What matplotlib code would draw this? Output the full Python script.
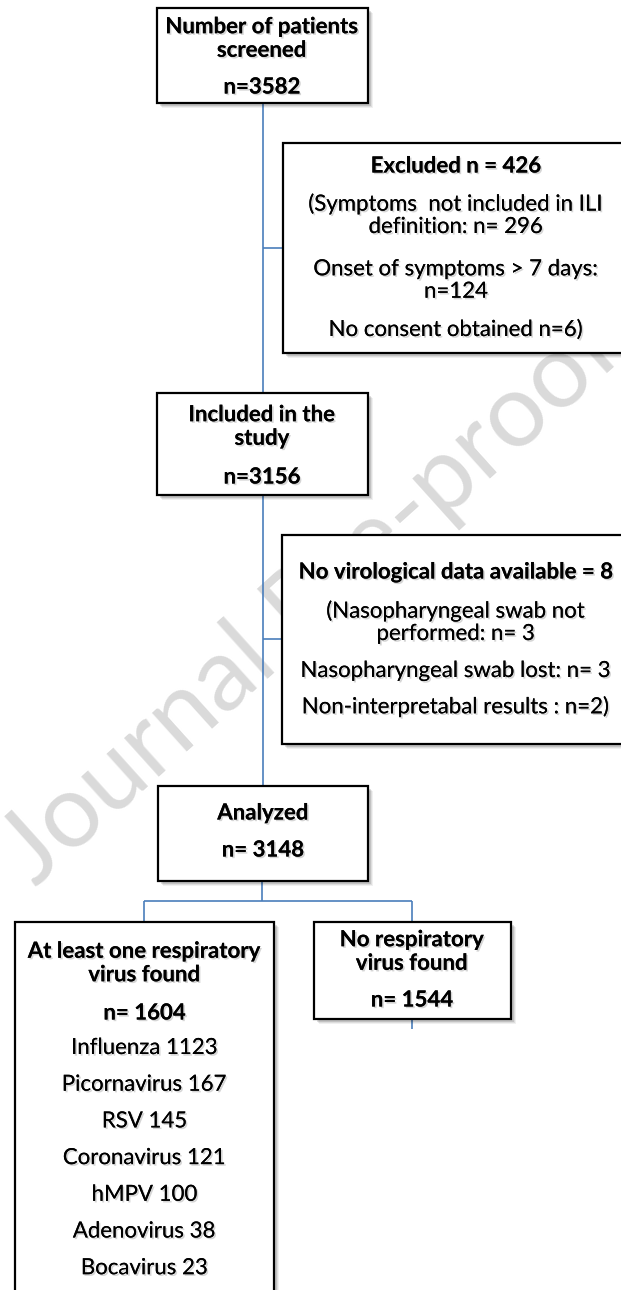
import matplotlib.pyplot as plt
from matplotlib.patches import Rectangle
import matplotlib.patheffects as pe

# numbers from the flow chart
screened = 3582
excluded = 426
excl_reasons = ["(Symptoms  not included in ILI\ndefinition: n= {}", "Onset of symptoms > 7 days:\nn={}", "No consent obtained n={})"]
excl_counts = [296, 124, 6]
included = 3156
no_viro = 8
noviro_reasons = ["(Nasopharyngeal swab not\nperformed: n= {}", "Nasopharyngeal swab lost: n= {}", "Non-interpretabal results : n={})"]
noviro_counts = [3, 3, 2]
analyzed = 3148
positive = 1604
negative = 1544
viruses = ["Influenza", "Picornavirus", "RSV", "Coronavirus", "hMPV", "Adenovirus", "Bocavirus"]
virus_counts = [1123, 167, 145, 121, 100, 38, 23]

FONT = "Lato"
LINE = "#4a7ebb"

fig = plt.figure(figsize=(6.21, 12.9), dpi=100)
ax = fig.add_axes([0, 0, 1, 1])
ax.set_xlim(0, 621)
ax.set_ylim(1290, 0)
ax.axis("off")

# watermark behind everything
ax.text(312, 600, "Journal Pre-proof", fontsize=74, color="#dadada", family=FONT,
        rotation=42, ha="center", va="center", zorder=0)

shadow = [pe.withSimplePatchShadow(offset=(1.2, -1.2), shadow_rgbFace="#777777", alpha=0.3), pe.Normal()]


def box(x0, y0, x1, y1):
    for k, a in [(5, 0.06), (4, 0.08), (3, 0.12)]:
        ax.add_patch(Rectangle((x0 + k, y0 + k), x1 - x0, y1 - y0, fc="#000000", ec="none", alpha=a, zorder=2))
    ax.add_patch(Rectangle((x0, y0), x1 - x0, y1 - y0, fc="white", ec="black", lw=1.6, zorder=3))


def txt(x, y, s, bold=False):
    ax.text(x, y, s, ha="center", va="center", family=FONT, fontsize=16,
            fontweight="bold" if bold else "normal", linespacing=1.15, zorder=4, path_effects=shadow)


def line(xs, ys):
    ax.plot(xs, ys, color=LINE, lw=1.2, zorder=1, solid_capstyle="butt")


# connectors
line([263, 263], [103, 393])
line([263, 283], [248, 248])
line([263, 263], [495, 786])
line([263, 282], [639, 639])
line([262, 262], [881, 901])
line([144, 412], [901, 901])
line([144, 144], [901, 922])
line([412, 412], [901, 922])
line([412, 412], [1019, 1029])

# screened
box(157, 8, 368, 103)
txt(262, 38.5, "Number of patients\nscreened", True)
txt(262, 87, "n={}".format(screened), True)

# excluded
box(283, 143, 632, 353)
txt(456, 166, "Excluded n = {}".format(excluded), True)
ys = [215.5, 280.5, 330]
for s, c, y in zip(excl_reasons, excl_counts, ys):
    txt(456, y, s.format(c))

# included
box(157, 393, 368, 495)
txt(262, 426.5, "Included in the\nstudy", True)
txt(262, 477, "n={}".format(included), True)

# no virological data
box(282, 535, 632, 744)
txt(456, 572, "No virological data available = {}".format(no_viro), True)
ys = [622.5, 671, 707]
for s, c, y in zip(noviro_reasons, noviro_counts, ys):
    txt(456, y, s.format(c))

# analyzed
box(158, 786, 368, 881)
txt(263, 813, "Analyzed", True)
txt(263, 850, "n= {}".format(analyzed), True)

# positive
box(15, 922, 274, 1310)
txt(144.5, 963, "At least one respiratory\nvirus found", True)
txt(144.5, 1013, "n= {}".format(positive), True)
for i, (v, c) in enumerate(zip(viruses, virus_counts)):
    txt(144.5, 1048 + i * 36.7, "{} {}".format(v, c))

# negative
box(314, 922, 511, 1019)
txt(412, 951.5, "No respiratory\nvirus found", True)
txt(412, 1000, "n= {}".format(negative), True)

fig.savefig("out.png", dpi=100)
